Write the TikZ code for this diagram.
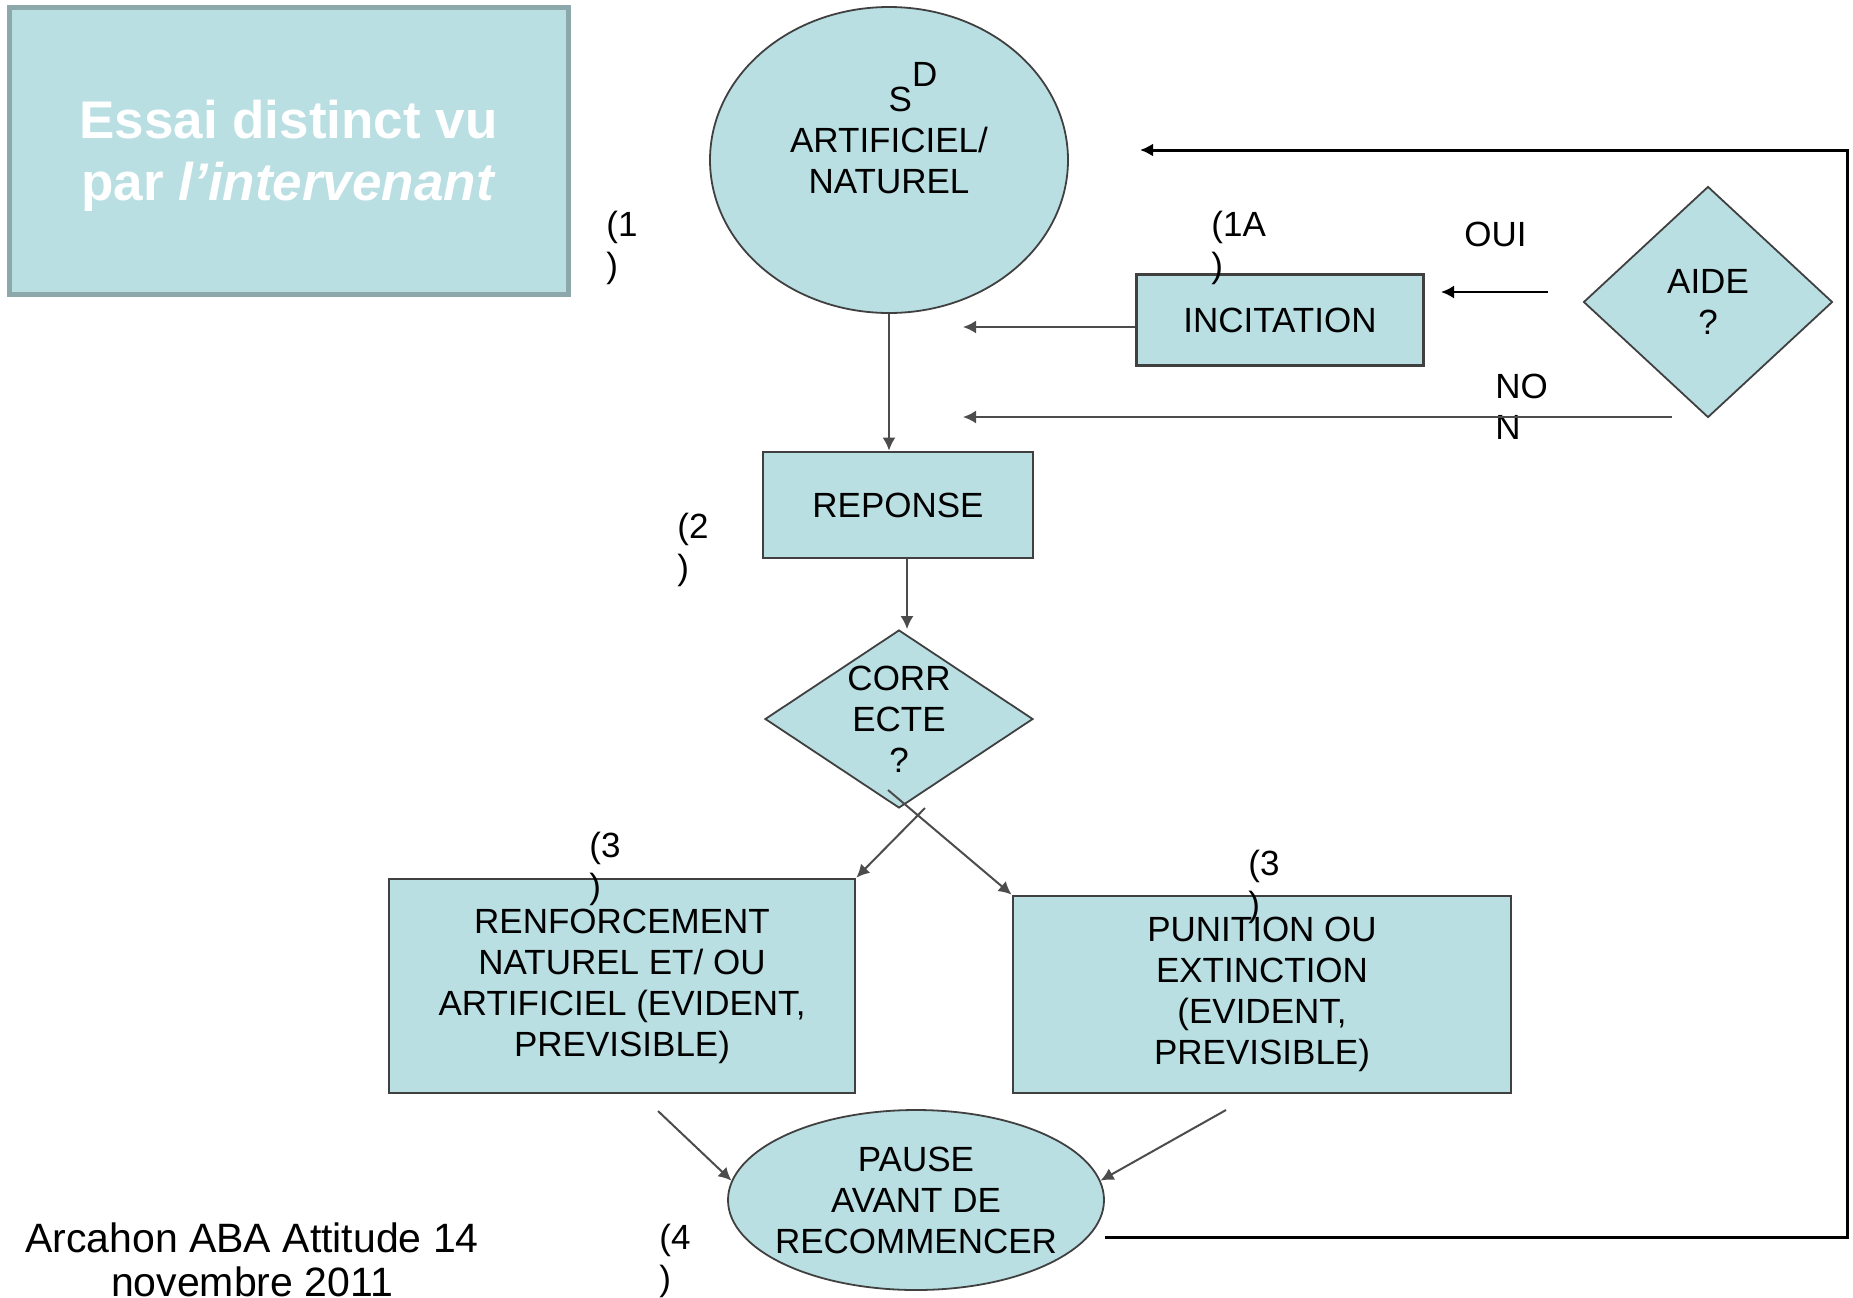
\documentclass[tikz,border=0pt]{standalone}
\usepackage{fontspec}
\setmainfont{Liberation Sans}
\usetikzlibrary{shapes.geometric,arrows.meta}

\definecolor{tealfill}{HTML}{B9DFE3}
\definecolor{titleedge}{HTML}{8DA8AB}
\definecolor{edgegray}{HTML}{404040}

\newcommand{\flowfont}{\fontsize{17.5}{20.5}\selectfont}
\newcommand{\essaifont}{\fontsize{26.5}{31}\selectfont\bfseries}
\newcommand{\notefont}{\fontsize{20.5}{22}\selectfont}

\tikzset{
  box/.style={draw=edgegray, line width=1.4pt, fill=tealfill, align=center, font=\flowfont, inner sep=0pt},
  oval/.style={ellipse, draw=edgegray, line width=0.9pt, fill=tealfill, inner sep=0pt},
  choice/.style={diamond, draw=edgegray, line width=0.9pt, fill=tealfill, align=center, font=\flowfont, inner sep=0pt},
  tag/.style={align=left, anchor=west, font=\flowfont, inner sep=0pt},
  txt/.style={align=center, font=\flowfont, inner sep=0pt},
  link/.style={line width=1pt, draw=black!70, ->},
}

\begin{document}
\begin{tikzpicture}[x=0.5pt, y=-0.5pt, >={Latex[length=6.5pt,width=6.5pt]}]

  \useasboundingbox (0,0) rectangle (1853,1297);

  \node[draw=titleedge, line width=2.5pt, fill=tealfill, minimum width=279.5pt, minimum height=143.5pt] (titlebox) at (288.5,150.5) {};
  \node[txt, text=white, font=\essaifont] (title) at (288.5,156) {Essai distinct vu\\par \textit{l'intervenant}};

  \node[oval, minimum width=179pt, minimum height=153pt] (sd) at (889,160) {};
  \node[txt] (sdtext) at (889,128) {\hspace*{1.37em}S\raisebox{0.7em}{D}\\ARTIFICIEL/\\NATUREL};

  \node[box, minimum width=143.5pt, minimum height=45.5pt] (inc) at (1280,320) {INCITATION};
  \node[choice, minimum width=124.5pt, minimum height=115.5pt] (aide) at (1708,302) {AIDE\\?};
  \node[box, minimum width=135pt, minimum height=53pt] (rep) at (898,505) {REPONSE};
  \node[choice, aspect=1.5, minimum width=134pt, minimum height=89pt] (cor) at (899,719) {CORR\\ECTE\\?};
  \node[box, minimum width=233pt, minimum height=107pt] (ren) at (622,986) {RENFORCEMENT\\NATUREL ET/ OU\\ARTIFICIEL (EVIDENT,\\PREVISIBLE)};
  \node[box, minimum width=249pt, minimum height=98.5pt] (pun) at (1262,994.5) {PUNITION OU\\EXTINCTION\\(EVIDENT,\\PREVISIBLE)};

  \node[oval, minimum width=188pt, minimum height=90pt] (pause) at (916,1200) {};
  \node[txt] (pausetext) at (916,1200) {PAUSE\\AVANT DE\\RECOMMENCER};

  % step numbers
  \node[tag] (t1) at (606,248) {(1\\)};
  \node[tag] (t1a) at (1211,248) {(1A\\)};
  \node[tag] (t2) at (677,550) {(2\\)};
  \node[tag] (t3a) at (589,869) {(3\\)};
  \node[tag] (t3b) at (1248,887) {(3\\)};
  \node[tag] (t4) at (659,1261) {(4\\)};
  \node[tag] (oui) at (1464,234) {OUI};
  \node[tag] (non) at (1495,407) {NO\\N};

  \node[align=center, font=\notefont, inner sep=0pt] (foot) at (252,1260) {Arcahon ABA Attitude 14\\novembre 2011};

  \coordinate (back) at (1140,150);
  \coordinate (rim) at (1847,150);
  \coordinate (ouistart) at (1548,292);
  \coordinate (ouiend) at (1441,292);
  \coordinate (incend) at (963,327);
  \coordinate (nonstart) at (1672,417);
  \coordinate (nonend) at (963,417);
  \coordinate (corleft) at (925,808);
  \coordinate (corright) at (888,790);
  \coordinate (renout) at (658,1111);
  \coordinate (punout) at (1226,1110);

  \draw[link] (sd.south) -- (sd.south |- rep.north);
  \draw[link] ([xshift=4.5pt]rep.south) -- ([xshift=4.5pt]rep.south |- cor.north);
  \draw[link] (inc.west |- incend) -- (incend);
  \draw[link, draw=black] (ouistart) -- (ouiend);
  \draw[link] (nonstart) -- (nonend);
  \draw[link] (corright) -- (pun.north west);
  \draw[link] (corleft) -- (ren.north east);
  \draw[link] (renout) -- (pause.174);
  \draw[link] (punout) -- (pause.6);
  \draw[link, line width=1.5pt, draw=black] ([yshift=-18.5pt]pause.east) -| (rim) -- (back);

\end{tikzpicture}
\end{document}
